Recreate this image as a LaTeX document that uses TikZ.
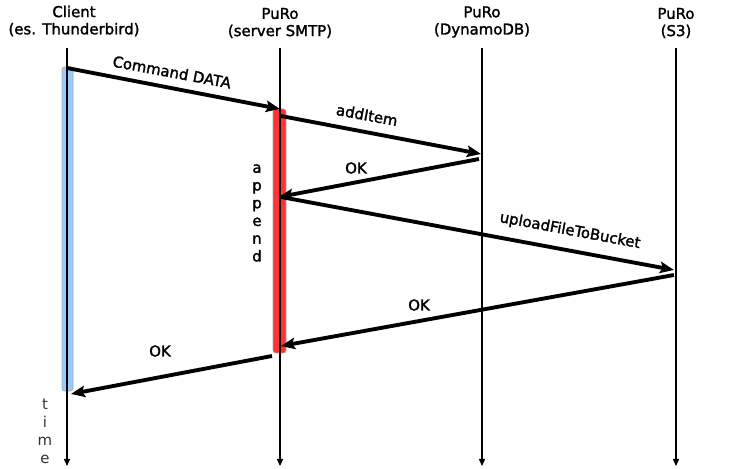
\documentclass[tikz,border=0pt]{standalone}
\usepackage{fontspec}
\setmainfont{DejaVu Sans}
\newfontfamily\labelfont{DejaVu Sans}[FakeBold=1.8]
\usetikzlibrary{arrows.meta}
\definecolor{barblue}{RGB}{153,204,255}
\definecolor{barred}{RGB}{255,51,51}

\begin{document}
\begin{tikzpicture}[x=0.02cm, y=-0.02cm,
  every node/.style={font=\fontsize{8.5}{9.8}\labelfont},
  life/.style={line width=0.6pt, -{Triangle[length=4pt,width=3.5pt]}},
  msg/.style={line width=2.2pt, -{Stealth[length=8pt,width=6.5pt,inset=1.5pt]}},
  bar/.style={draw=gray!70, rounded corners=1.5pt, line width=0.4pt}]

\useasboundingbox (0,0) rectangle (744,469);

\node [align=center] (h1) at (74,21) {Client\\(es. Thunderbird)};
\node [align=center] (h2) at (280,23) {PuRo\\(server SMTP)};
\node [align=center] (h3) at (482,22) {PuRo\\(DynamoDB)};
\node [align=center] (h4) at (676,23) {PuRo\\(S3)};

\filldraw [bar, fill=barblue] (62,67) rectangle (73,391);
\filldraw [bar, fill=barred] (273,109) rectangle (286,353);

\coordinate (t1) at (67,48);
\coordinate (t2) at (280,48);
\coordinate (t3) at (482,48);
\coordinate (t4) at (676,48);
\coordinate (b1) at (67,466);
\coordinate (b2) at (280,466);
\coordinate (b3) at (482,466);
\coordinate (b4) at (676,466);
\draw [life] (t1) -- (b1);
\draw [life] (t2) -- (b2);
\draw [life] (t3) -- (b3);
\draw [life] (t4) -- (b4);

\coordinate (m1) at (67,68);
\coordinate (m2) at (280,109);
\coordinate (m3) at (281,116);
\coordinate (m4) at (481,154);
\coordinate (m5) at (479,159);
\coordinate (m6) at (279,197);
\coordinate (m7) at (281,197);
\coordinate (m8) at (674,270);
\coordinate (m9) at (674,275);
\coordinate (m10) at (281,346);
\coordinate (m11) at (272,356);
\coordinate (m12) at (71,394);
\draw [msg] (m1) -- (m2);
\draw [msg] (m3) -- (m4);
\draw [msg] (m5) -- (m6);
\draw [msg] (m7) -- (m8);
\draw [msg] (m9) -- (m10);
\draw [msg] (m11) -- (m12);

\node [rotate=-10.6] (l1) at (172,72) {Command DATA};
\node [rotate=-10.6] (l2) at (367,115) {addItem};
\node [] (l3) at (356,168) {OK};
\node [rotate=-10.6] (l4) at (570,231) {uploadFileToBucket};
\node [] (l5) at (419,305) {OK};
\node [] (l6) at (160,351) {OK};

\node [align=center, font=\fontsize{8.5}{10.1}\labelfont] (app) at (257,213) {a\\p\\p\\e\\n\\d};
\node [align=center, text=black!80, font=\fontsize{8.5}{10.2}\selectfont] (time) at (45,431) {t\\i\\m\\e};
\end{tikzpicture}
\end{document}
